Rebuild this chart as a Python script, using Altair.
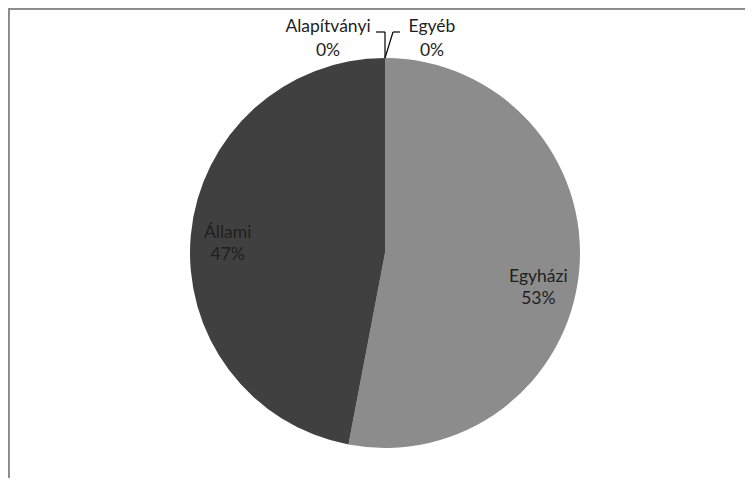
import altair as alt
import pandas as pd

categories = ["Egyházi", "Állami", "Alapítványi", "Egyéb"]
values = [53, 47, 0, 0]
colors = ["#8c8c8c", "#404040", "#a6a6a6", "#d9d9d9"]

df = pd.DataFrame({"cat": categories, "val": values, "idx": list(range(len(categories)))})

W, H = 737, 470
CX, CY, R = 377, 245, 195
FONT = "Lato"
FS = 17.5
TXT = "#1e1e1e"

base = alt.Chart(df).transform_window(
    cum="sum(val)", sort=[alt.SortField("idx")], frame=[None, 0]
).transform_joinaggregate(
    total="sum(val)"
).transform_calculate(
    mid="(datum.cum - datum.val / 2) / datum.total * 2 * PI",
    pct="format(datum.val / datum.total, '.0%')",
    side="datum.cat == 'Alapítványi' ? -1 : 1",
)
base = base.transform_calculate(
    label="datum.cat + '\\n' + datum.pct",
    ex=f"{CX} + {R} * sin(datum.mid)",
    ey=f"{CY} - {R} * cos(datum.mid)",
)

pie = alt.Chart(df).mark_arc(outerRadius=R).encode(
    theta=alt.Theta("val:Q", stack=True),
    color=alt.Color("cat:N", scale=alt.Scale(domain=categories, range=colors), legend=None),
    order=alt.Order("idx:Q"),
    x=alt.value(CX),
    y=alt.value(CY),
)


def big_label(cat, r, dy):
    return base.transform_filter(alt.datum.cat == cat).transform_calculate(
        lx=f"{CX} + {r} * sin(datum.mid)",
        ly=f"{CY} - {r} * cos(datum.mid)",
    ).mark_text(
        font=FONT, fontSize=FS, color=TXT, lineBreak="\n", lineHeight=22,
        align="center", baseline="middle", dy=dy,
    ).encode(
        x=alt.X("lx:Q", scale=None),
        y=alt.Y("ly:Q", scale=None),
        text="label:N",
    )


egy = big_label("Egyházi", 154, 10)
allami = big_label("Állami", 158, -5)

small = base.transform_filter(alt.datum.val == 0)

small_labels = small.transform_calculate(
    lx=f"{CX} + 222 * sin(datum.mid) + (datum.side < 0 ? -57 : 47)",
    ly=f"{CY} - 222 * cos(datum.mid)",
).mark_text(
    font=FONT, fontSize=FS, color=TXT, lineBreak="\n", lineHeight=24,
    align="center", baseline="middle", dy=-4,
).encode(
    x=alt.X("lx:Q", scale=None),
    y=alt.Y("ly:Q", scale=None),
    text="label:N",
)

lead = small.transform_calculate(
    bx="datum.ex + (datum.side < 0 ? 0 : 8)",
    by="datum.ey - 26",
)
lead = lead.transform_calculate(
    tx="datum.bx + (datum.side < 0 ? -9 : 7)",
)

seg1 = lead.mark_rule(color="#000000", strokeWidth=1.2).encode(
    x=alt.X("ex:Q", scale=None), y=alt.Y("ey:Q", scale=None),
    x2="bx:Q", y2="by:Q",
)
seg2 = lead.mark_rule(color="#000000", strokeWidth=1.2).encode(
    x=alt.X("bx:Q", scale=None), y=alt.Y("by:Q", scale=None),
    x2="tx:Q", y2="by:Q",
)

border_left = alt.Chart(df).mark_rule(color="#8a8a8a", strokeWidth=2).encode(
    x=alt.value(0.5), y=alt.value(0), y2=alt.value(H)
)
border_top = alt.Chart(df).mark_rule(color="#8a8a8a", strokeWidth=2).encode(
    x=alt.value(0), x2=alt.value(W), y=alt.value(0.5)
)

chart = alt.layer(border_left, border_top, pie, seg1, seg2, egy, allami, small_labels).properties(
    width=W, height=H,
    autosize=alt.AutoSizeParams(type="none"),
    padding=0,
    background="#ffffff",
).configure_view(stroke=None)

chart.save("out.html", embed_options={"renderer": "svg", "actions": False})
